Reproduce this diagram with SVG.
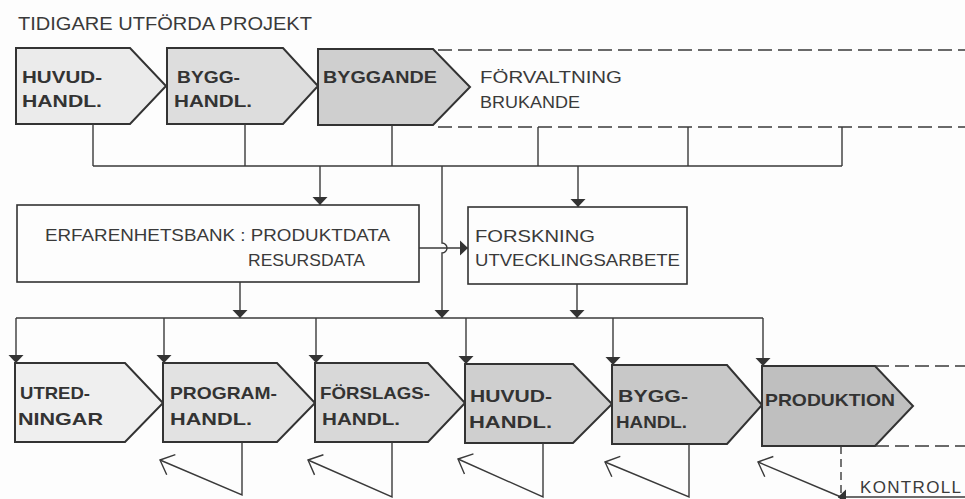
<svg xmlns="http://www.w3.org/2000/svg" width="965" height="499" viewBox="0 0 965 499">
  <style>
    .bg { fill: #fdfdfd; }
    .step { stroke: #333; stroke-width: 2; stroke-linejoin: miter; }
    .box { fill: #fdfdfd; stroke: #333; stroke-width: 1.6; }
    .line { fill: none; stroke: #3a3a3a; stroke-width: 1.4; }
    .dash { fill: none; stroke: #3a3a3a; stroke-width: 1.4; stroke-dasharray: 14 6; }
    .bold { font-family: "Liberation Sans", Arial, sans-serif; font-weight: bold; font-size: 17px; fill: #333; }
    .light { font-family: "Liberation Sans", Arial, sans-serif; font-size: 17px; fill: #3a3a3a; }
    .title { font-family: "Liberation Sans", Arial, sans-serif; font-size: 17.5px; fill: #3a3a3a; }
  </style>
  <defs>
    <marker id="tri" markerUnits="userSpaceOnUse" markerWidth="20" markerHeight="20" viewBox="-10 -10 20 20" refX="0" refY="0" orient="auto">
      <path d="M0,0 L-8,-7.5 L-8,7.5 Z" fill="#333"/>
    </marker>
    <marker id="open" markerUnits="userSpaceOnUse" markerWidth="30" markerHeight="30" viewBox="-15 -15 30 30" refX="0" refY="0" orient="auto">
      <path d="M-12,-11 L0,0 L-12,11" fill="none" stroke="#3a3a3a" stroke-width="1.4"/>
    </marker>
  </defs>

  <rect class="bg" x="0" y="0" width="965" height="499"/>

  <text class="title" x="18" y="30" textLength="294" lengthAdjust="spacingAndGlyphs">TIDIGARE UTFÖRDA PROJEKT</text>

  <!-- earlier projects: process chain -->
  <g id="top-huvud">
    <path class="step" d="M16,48 H130 L166,86 L130,124 H16 Z" fill="#ebebeb"/>
    <text class="bold" x="22" y="83" textLength="80" lengthAdjust="spacingAndGlyphs">HUVUD-</text>
    <text class="bold" x="22" y="107" textLength="80" lengthAdjust="spacingAndGlyphs">HANDL.</text>
  </g>
  <g id="top-bygg">
    <path class="step" d="M167,48 H283 L318,86 L283,124 H167 Z" fill="#dddddd"/>
    <text class="bold" x="177" y="83" textLength="63" lengthAdjust="spacingAndGlyphs">BYGG-</text>
    <text class="bold" x="174" y="107" textLength="78" lengthAdjust="spacingAndGlyphs">HANDL.</text>
  </g>
  <g id="top-byggande">
    <path class="step" d="M318,49 H433 L470,87 L433,125 H318 Z" fill="#cfcfcf"/>
    <text class="bold" x="323" y="83" textLength="114" lengthAdjust="spacingAndGlyphs">BYGGANDE</text>
  </g>
  <g id="forvaltning">
    <path class="dash" d="M438,50 H965 M438,127 H965"/>
    <text class="light" x="480" y="83" textLength="142" lengthAdjust="spacingAndGlyphs">FÖRVALTNING</text>
    <text class="light" x="480" y="108" textLength="100" lengthAdjust="spacingAndGlyphs">BRUKANDE</text>
  </g>

  <!-- knowledge stores -->
  <g id="erfarenhetsbank">
    <rect class="box" x="17" y="205" width="402" height="77"/>
    <text class="light" x="45" y="241" textLength="345" lengthAdjust="spacingAndGlyphs">ERFARENHETSBANK : PRODUKTDATA</text>
    <text class="light" x="248" y="266" textLength="117" lengthAdjust="spacingAndGlyphs">RESURSDATA</text>
  </g>
  <g id="forskning">
    <rect class="box" x="468" y="207" width="219" height="77"/>
    <text class="light" x="475" y="242" textLength="120" lengthAdjust="spacingAndGlyphs">FORSKNING</text>
    <text class="light" x="475" y="266" textLength="205" lengthAdjust="spacingAndGlyphs">UTVECKLINGSARBETE</text>
  </g>

  <!-- current project: process chain -->
  <g id="utredningar">
    <path class="step" d="M15,363 H125 L163,403 L125,442 H15 Z" fill="#efefef"/>
    <text class="bold" x="20" y="399" textLength="70" lengthAdjust="spacingAndGlyphs">UTRED-</text>
    <text class="bold" x="18" y="425" textLength="85" lengthAdjust="spacingAndGlyphs">NINGAR</text>
  </g>
  <g id="programhandl">
    <path class="step" d="M163,363 H277 L315,403 L277,442 H163 Z" fill="#e2e2e2"/>
    <text class="bold" x="170" y="399" textLength="107" lengthAdjust="spacingAndGlyphs">PROGRAM-</text>
    <text class="bold" x="170" y="425" textLength="82" lengthAdjust="spacingAndGlyphs">HANDL.</text>
  </g>
  <g id="forslagshandl">
    <path class="step" d="M315,363 H428 L465,403 L428,442 H315 Z" fill="#d8d8d8"/>
    <text class="bold" x="320" y="399" textLength="110" lengthAdjust="spacingAndGlyphs">FÖRSLAGS-</text>
    <text class="bold" x="322" y="425" textLength="78" lengthAdjust="spacingAndGlyphs">HANDL.</text>
  </g>
  <g id="huvudhandl">
    <path class="step" d="M465,364 H573 L612,404 L573,443 H465 Z" fill="#cfcfcf"/>
    <text class="bold" x="470" y="402" textLength="82" lengthAdjust="spacingAndGlyphs">HUVUD-</text>
    <text class="bold" x="469" y="428" textLength="83" lengthAdjust="spacingAndGlyphs">HANDL.</text>
  </g>
  <g id="bygghandl">
    <path class="step" d="M612,365 H727 L762,405 L727,444 H612 Z" fill="#c8c8c8"/>
    <text class="bold" x="618" y="402" textLength="70" lengthAdjust="spacingAndGlyphs">BYGG-</text>
    <text class="bold" x="616" y="428" textLength="71" lengthAdjust="spacingAndGlyphs">HANDL.</text>
  </g>
  <g id="produktion">
    <path class="step" d="M762,366 H875 L913,406 L875,446 H762 Z" fill="#bfbfbf"/>
    <text class="bold" x="765" y="406" textLength="130" lengthAdjust="spacingAndGlyphs">PRODUKTION</text>
    <path class="dash" d="M875,366 H965 M875,446 H965"/>
  </g>
  <g id="kontroll">
    <text class="light" x="860" y="493" textLength="101" lengthAdjust="spacing">KONTROLL</text>
  </g>

  <g id="connectors">
    <!-- collector from earlier projects -->
    <path class="line" d="M93,124 V166 M245,124 V166 M392,125 V166 M93,166 H842"/>
    <path class="line" d="M538,127 V166 M688,127 V166 M842,127 V166"/>
    <path class="line" d="M320,166 V205" marker-end="url(#tri)"/>
    <path class="line" d="M578,166 V207" marker-end="url(#tri)"/>
    <path class="line" d="M442,166 V243 A5,5 0 0 1 442,253 V318" marker-end="url(#tri)"/>
    <path class="line" d="M419,248 H468" marker-end="url(#tri)"/>
    <!-- distribution to current project -->
    <path class="line" d="M240,282 V318" marker-end="url(#tri)"/>
    <path class="line" d="M577,284 V318" marker-end="url(#tri)"/>
    <path class="line" d="M16,318 H763"/>
    <path class="line" d="M16,318 V363" marker-end="url(#tri)"/>
    <path class="line" d="M164,318 V363" marker-end="url(#tri)"/>
    <path class="line" d="M316,318 V363" marker-end="url(#tri)"/>
    <path class="line" d="M466,318 V364" marker-end="url(#tri)"/>
    <path class="line" d="M613,318 V365" marker-end="url(#tri)"/>
    <path class="line" d="M763,318 V366" marker-end="url(#tri)"/>
    <!-- feedback loops -->
    <path class="line" d="M242,442 V495 L160,460" marker-end="url(#open)"/>
    <path class="line" d="M392,442 V497 L308,460" marker-end="url(#open)"/>
    <path class="line" d="M543,443 V497 L458,459" marker-end="url(#open)"/>
    <path class="line" d="M689,444 V497 L605,462" marker-end="url(#open)"/>
    <path class="dash" d="M841,446 V497" style="stroke-dasharray: 8 5"/>
    <path class="line" d="M841,497 L758,462" marker-end="url(#open)"/>
    <path class="line" d="M965,497 H838" marker-end="url(#tri)"/>
  </g>
</svg>
